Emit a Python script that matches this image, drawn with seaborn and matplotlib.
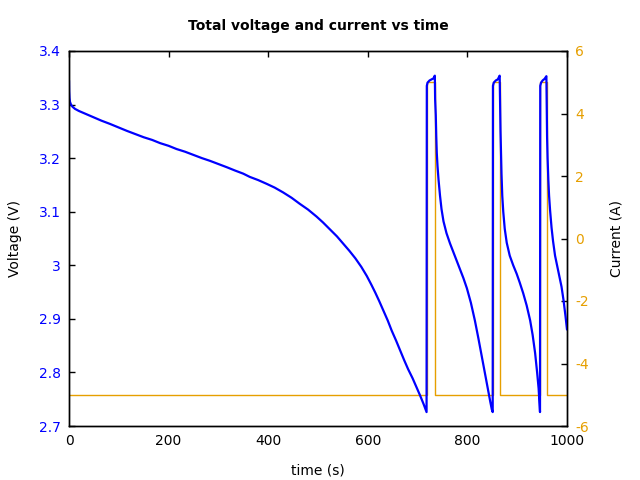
import matplotlib
matplotlib.use("Agg")
import matplotlib.pyplot as plt
import seaborn as sns
import pandas as pd
from matplotlib.ticker import FuncFormatter

# ---- data ----
time_v = [0, 0.3, 1, 2, 4, 7, 12, 20, 30, 40, 50, 65, 82, 100, 116, 133, 150, 167, 183, 200,
          216, 233, 250, 267, 283, 300, 317, 333, 350, 363, 380, 397, 413, 430, 447, 463, 480,
          497, 510, 524, 538, 551, 563, 575, 587, 598, 607, 615, 623, 631, 640, 648, 657, 665,
          673, 681, 690, 698, 705, 712, 718,
          718.5, 720, 724, 728, 732, 734.6, 735.2, 736.5, 737.5, 738.5, 740, 742, 745, 748, 752,
          758, 765, 772, 778, 785, 792, 799, 807, 815, 822, 829, 836, 842, 846, 849, 850.8,
          851.3, 853, 857, 861, 864.8, 865.6, 866.5, 867.5, 868.5, 870, 872, 875, 879, 885,
          892, 899, 905, 912, 919, 926, 931, 936, 940, 943, 945.8,
          946.3, 948, 951, 955, 958.6, 959.2, 960, 961, 962.5, 964, 966, 969, 972, 976, 980,
          985, 989, 993, 997, 1000]
voltage = [3.345, 3.325, 3.312, 3.305, 3.300, 3.296, 3.292, 3.288, 3.284, 3.280, 3.276, 3.270,
           3.264, 3.257, 3.251, 3.245, 3.239, 3.234, 3.228, 3.223, 3.217, 3.212, 3.206, 3.200,
           3.195, 3.189, 3.183, 3.177, 3.171, 3.165, 3.159, 3.152, 3.145, 3.136, 3.126, 3.115,
           3.104, 3.091, 3.080, 3.067, 3.054, 3.040, 3.027, 3.013, 2.997, 2.980, 2.964, 2.949,
           2.933, 2.916, 2.897, 2.878, 2.859, 2.841, 2.823, 2.806, 2.789, 2.772, 2.757, 2.741,
           2.726,
           3.335, 3.341, 3.345, 3.347, 3.349, 3.354, 3.310, 3.280, 3.240, 3.210, 3.185, 3.160,
           3.130, 3.105, 3.082, 3.060, 3.041, 3.024, 3.010, 2.993, 2.976, 2.957, 2.930, 2.897,
           2.864, 2.829, 2.794, 2.763, 2.745, 2.731, 2.726,
           3.335, 3.341, 3.345, 3.347, 3.354, 3.300, 3.250, 3.210, 3.170, 3.130, 3.100, 3.068,
           3.042, 3.018, 3.000, 2.984, 2.968, 2.948, 2.925, 2.897, 2.870, 2.836, 2.800, 2.770,
           2.726,
           3.335, 3.341, 3.345, 3.348, 3.353, 3.300, 3.240, 3.200, 3.160, 3.130, 3.103, 3.070,
           3.045, 3.018, 3.000, 2.978, 2.960, 2.935, 2.905, 2.880]

time_i = [0, 718, 718, 735.5, 735.5, 850.8, 850.8, 865.5, 865.5, 945.8, 945.8, 959, 959, 1000]
current = [-5, -5, 5, 5, -5, -5, 5, 5, -5, -5, 5, 5, -5, -5]

volt_ticks = [2.7, 2.8, 2.9, 3.0, 3.1, 3.2, 3.3, 3.4]
curr_ticks = [-6, -4, -2, 0, 2, 4, 6]
time_ticks = [0, 200, 400, 600, 800, 1000]

BLUE = "#0000ff"
ORANGE = "#e69f00"

sns.set_style("white")
plt.rcParams["font.family"] = ["DejaVu Sans"]
plt.rcParams["font.size"] = 10
plt.rcParams["text.color"] = "black"
plt.rcParams["axes.labelcolor"] = "black"

fig = plt.figure(figsize=(6.4, 4.8), dpi=100)
ax = fig.add_axes([69/640, 54/480, (567-69)/640, (426-51)/480])
ax2 = ax.twinx()

dfv = pd.DataFrame({"time": time_v, "voltage": voltage})
dfi = pd.DataFrame({"time": time_i, "current": current})

sns.lineplot(data=dfi, x="time", y="current", ax=ax2, color=ORANGE, lw=1.0,
             estimator=None, sort=False)
sns.lineplot(data=dfv, x="time", y="voltage", ax=ax, color=BLUE, lw=1.6,
             estimator=None, sort=False)

ax.set_zorder(ax2.get_zorder() + 1)
ax.patch.set_visible(False)

ax.set_xlim(0, 1000)
ax.set_ylim(2.7, 3.4)
ax2.set_ylim(-6, 6)
ax.set_xticks(time_ticks)
ax.set_yticks(volt_ticks)
ax2.set_yticks(curr_ticks)
ax.yaxis.set_major_formatter(FuncFormatter(lambda v, p: "%g" % round(v, 2)))
ax2.yaxis.set_major_formatter(FuncFormatter(lambda v, p: "%g" % v))

ax.tick_params(axis="x", direction="in", length=4, width=1, top=True, pad=6,
               colors="black", labelsize=10)
ax.tick_params(axis="y", direction="in", length=4, width=1, pad=6,
               labelcolor=BLUE, color="black", labelsize=10)
ax2.tick_params(axis="y", direction="in", length=4, width=1, pad=6,
                labelcolor=ORANGE, color="black", labelsize=10)

for a in (ax, ax2):
    for s in a.spines.values():
        s.set_visible(True)
        s.set_color("black")
        s.set_linewidth(1)

ax.set_xlabel("time (s)", fontsize=10, labelpad=11, color="black")
ax.set_ylabel("Voltage (V)", fontsize=10, labelpad=12, color="black")
ax2.set_ylabel("Current (A)", fontsize=10, labelpad=15, color="black")
ax.set_title("Total voltage and current vs time", fontsize=10, fontweight="bold",
             pad=15, color="black")

fig.savefig("out.png", dpi=100)
